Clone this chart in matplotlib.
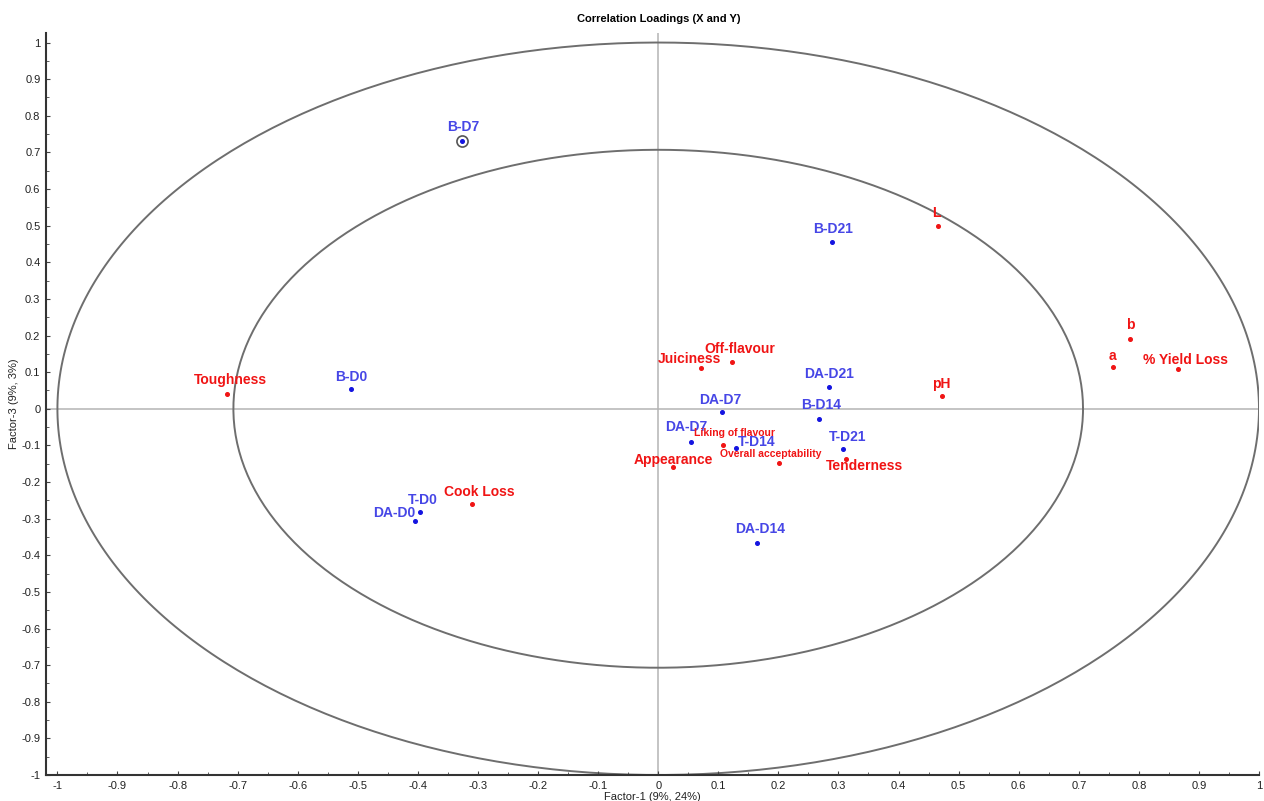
import numpy as np
import matplotlib.pyplot as plt
from matplotlib.ticker import MultipleLocator, FuncFormatter

plt.rcParams['font.family'] = ['Liberation Sans', 'DejaVu Sans']

# X variables (samples), blue
x_names = ['B-D7', 'B-D21', 'B-D0', 'DA-D21', 'DA-D7', 'B-D14', 'DA-D7',
           'T-D14', 'T-D21', 'T-D0', 'DA-D0', 'DA-D14']
x_f1 = [-0.327, 0.289, -0.512, 0.285, 0.106, 0.267, 0.054,
        0.130, 0.307, -0.397, -0.405, 0.164]
x_f3 = [0.731, 0.455, 0.053, 0.060, -0.008, -0.028, -0.091,
        -0.108, -0.111, -0.281, -0.306, -0.366]
# label offsets in pixels (dx, dy)
x_off = [(2, 14), (1, 13), (1, 12), (0, 13), (-2, 12), (3, 14), (-4, 15),
         (20, 6), (5, 12), (3, 12), (-21, 8), (3, 14)]

# Y variables (attributes), red
y_names = ['L', 'b', 'a', '% Yield Loss', 'pH', 'Off-flavour', 'Juiciness',
           'Toughness', 'Liking of flavour', 'Overall acceptability',
           'Tenderness', 'Appearance', 'Cook Loss']
y_f1 = [0.465, 0.786, 0.757, 0.866, 0.472, 0.122, 0.072,
        -0.718, 0.108, 0.201, 0.313, 0.025, -0.310]
y_f3 = [0.499, 0.190, 0.115, 0.108, 0.035, 0.127, 0.111,
        0.039, -0.099, -0.149, -0.136, -0.158, -0.259]
y_off = [(-1, 13), (0, 14), (-1, 11), (7, 9), (-1, 12), (8, 13), (-12, 9),
         (4, 14), (11, 12), (-8, 9), (18, -7), (0, 7), (7, 12)]
small_labels = ['Liking of flavour', 'Overall acceptability']

blue_txt = '#4646e6'
blue_dot = '#1414e0'
red = '#f01414'

fig = plt.figure(figsize=(12.64, 8.01), dpi=100)
ax = fig.add_axes([46 / 1264, 1 - 775 / 801, 1213 / 1264, 742 / 801])

# 100% and 50% explained variance ellipses
t = np.linspace(0, 2 * np.pi, 400)
for r in (1.0, np.sqrt(0.5)):
    ax.plot(r * np.cos(t), r * np.sin(t), color='#6e6e6e', lw=1.4, zorder=1)
ax.axhline(0, color='#b4b4b4', lw=1.1, zorder=0)
ax.axvline(0, color='#b4b4b4', lw=1.1, zorder=0)

ax.plot(x_f1, x_f3, 'o', ms=2.6, color=blue_dot, zorder=3)
ax.plot(y_f1, y_f3, 'o', ms=2.6, color=red, zorder=3)
# highlighted sample
ax.plot(x_f1[0], x_f3[0], 'o', ms=8, mfc='none', mec='#555555', mew=1.2, zorder=3)

for n, a, b, off in zip(x_names, x_f1, x_f3, x_off):
    ax.annotate(n, (a, b), xytext=off, textcoords='offset pixels',
                ha='center', va='center', color=blue_txt,
                fontsize=10, fontweight='bold')
for n, a, b, off in zip(y_names, y_f1, y_f3, y_off):
    fs = 7.5 if n in small_labels else 10
    ax.annotate(n, (a, b), xytext=off, textcoords='offset pixels',
                ha='center', va='center', color=red,
                fontsize=fs, fontweight='bold')

ax.set_xlim(-1.019, 1.0)
ax.set_ylim(-1.0, 1.026)
for s in ('top', 'right'):
    ax.spines[s].set_visible(False)
for s in ('left', 'bottom'):
    ax.spines[s].set_color('#333333')
    ax.spines[s].set_linewidth(1.5)
    ax.spines[s].set_zorder(4)

fmt = FuncFormatter(lambda v, p: '%g' % (round(v, 2) + 0.0))
for axis in (ax.xaxis, ax.yaxis):
    axis.set_minor_locator(MultipleLocator(0.05))
    axis.set_major_formatter(fmt)
ax.set_xticks(np.round(np.arange(-1, 1.001, 0.1), 2))
ax.set_yticks(np.round(np.arange(-1, 1.001, 0.1), 2))
ax.tick_params(which='both', direction='in', colors='#444444',
               labelsize=8, labelcolor='#222222')
ax.tick_params(which='major', length=3)
ax.tick_params(which='minor', length=2)
ax.tick_params(axis='x', pad=4)
ax.tick_params(axis='y', pad=4)

ax.set_xlabel('Factor-1 (9%, 24%)', fontsize=8, labelpad=1, color='#222222')
ax.set_ylabel('Factor-3 (9%, 3%)', fontsize=8, labelpad=2, color='#222222')
fig.text(0.5215, 1 - 19 / 801, 'Correlation Loadings (X and Y)',
         ha='center', va='center', fontsize=8, fontweight='bold')

fig.savefig('out.png', dpi=100)
